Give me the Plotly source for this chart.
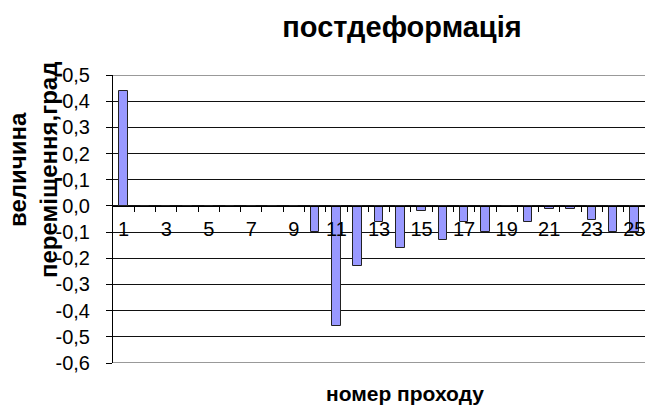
import plotly.graph_objects as go

# Pass number and post-deformation displacement (degrees)
passes = list(range(1, 26))
displacement = [0.44, 0, 0, 0, 0, 0, 0, 0, 0, -0.10,
                -0.46, -0.23, -0.06, -0.16, -0.02, -0.13, -0.06, -0.10, 0, -0.06,
                -0.01, -0.01, -0.055, -0.10, -0.10]

x_tick_values = [1, 3, 5, 7, 9, 11, 13, 15, 17, 19, 21, 23, 25]
x_tick_labels = [str(v) for v in x_tick_values]
y_tick_values = [0.5, 0.4, 0.3, 0.2, 0.1, 0.0, -0.1, -0.2, -0.3, -0.4, -0.5, -0.6]
y_tick_labels = ["0,5", "0,4", "0,3", "0,2", "0,1", "0,0",
                 "-0,1", "-0,2", "-0,3", "-0,4", "-0,5", "-0,6"]

title_text = "постдеформація"
x_title = "номер проходу"
y_title = "величина<br>переміщення,град"

FONT = "Liberation Sans, Arial, sans-serif"
y_min, y_max = -0.6, 0.5

fig = go.Figure()
fig.add_trace(go.Bar(
    x=passes,
    y=displacement,
    width=0.4,
    marker=dict(color="#9999FF", line=dict(color="#222222", width=1)),
    showlegend=False,
))

# tick marks sit on the boundaries between neighbouring passes
boundaries = [p + 0.5 for p in passes[:-1]]

fig.update_layout(
    width=645,
    height=407,
    margin=dict(l=113, r=0, t=75, b=44),
    paper_bgcolor="white",
    plot_bgcolor="white",
    font=dict(family=FONT, color="black"),
    bargap=0,
    title=dict(
        text=title_text,
        font=dict(size=29, family=FONT, weight="bold"),
        x=402 / 645, xref="container", xanchor="center",
        y=1 - 27 / 407, yref="container", yanchor="middle",
    ),
    xaxis=dict(
        range=[0.5, 25.5],
        anchor="free",
        position=(0 - y_min) / (y_max - y_min),
        showline=True, linecolor="black", linewidth=1,
        showgrid=False, zeroline=False,
        tickmode="array", tickvals=x_tick_values, ticktext=x_tick_labels,
        ticks="", ticklabelstandoff=5,
        ticklabeloverflow="allow",
        tickfont=dict(size=20, family=FONT),
        minor=dict(tickmode="array", tickvals=boundaries, ticks="outside",
                   ticklen=5, tickcolor="black", tickwidth=1, showgrid=False),
    ),
    yaxis=dict(
        range=[y_min, y_max],
        showline=True, linecolor="black", linewidth=1,
        showgrid=True, gridcolor="#111111", gridwidth=1.3,
        zeroline=False,
        tickmode="array", tickvals=y_tick_values, ticktext=y_tick_labels,
        ticks="outside", ticklen=6, tickcolor="black",
        ticklabelstandoff=12,
        ticklabeloverflow="allow",
        tickfont=dict(size=20, family=FONT),
    ),
    shapes=[
        dict(type="line", xref="paper", yref="y", x0=0, x1=1, y0=y_max, y1=y_max,
             line=dict(color="#999999", width=2)),
        dict(type="line", xref="paper", yref="y", x0=0, x1=1, y0=y_min, y1=y_min,
             line=dict(color="#999999", width=2)),
    ],
    annotations=[
        dict(text=x_title, xref="paper", yref="paper",
             x=(405 - 113) / 532, y=-(393 - 363) / 288,
             xanchor="center", yanchor="middle", showarrow=False,
             font=dict(size=21, family=FONT, weight="bold")),
        dict(text=y_title, xref="paper", yref="paper",
             x=-(113 - 33) / 532, y=(363 - 170) / 288,
             xanchor="center", yanchor="middle", showarrow=False,
             textangle=-90,
             font=dict(size=24, family=FONT, weight="bold")),
    ],
)

fig.write_html("out.html")
